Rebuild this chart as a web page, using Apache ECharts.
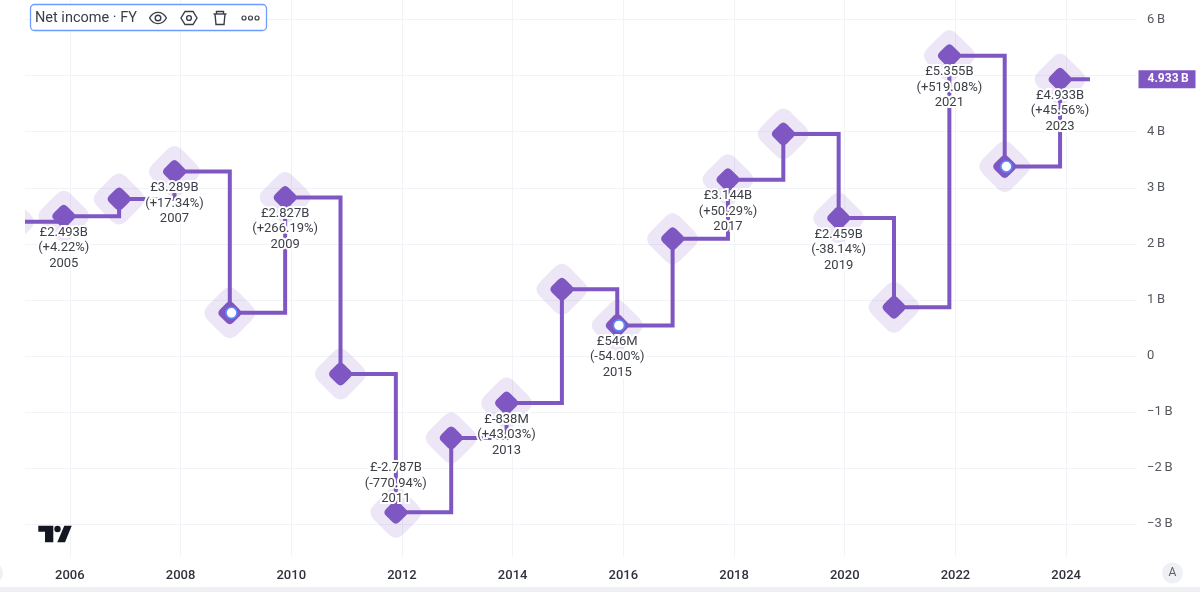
<!DOCTYPE html>
<html>
<head>
<meta charset="utf-8">
<style>html,body{margin:0;padding:0;background:#fff}#c{width:1200px;height:592px}</style>
<script src="https://cdn.jsdelivr.net/npm/echarts@6/dist/echarts.min.js"></script>
</head>
<body>
<div id="c"></div>
<script>
const fiscalYears = [2004,2005,2006,2007,2008,2009,2010,2011,2012,2013,2014,2015,2016,2017,2018,2019,2020,2021,2022,2023];
const netIncomeB = [2.392,2.493,2.80,3.289,0.77,2.827,-0.32,-2.787,-1.46,-0.838,1.19,0.546,2.09,3.144,3.96,2.459,0.87,5.355,3.38,4.933];
const valueLabels = {2005:'£2.493B',2007:'£3.289B',2009:'£2.827B',2011:'£-2.787B',2013:'£-838M',2015:'£546M',2017:'£3.144B',2019:'£2.459B',2021:'£5.355B',2023:'£4.933B'};
const changeLabels = {2005:'(+4.22%)',2007:'(+17.34%)',2009:'(+266.19%)',2011:'(-770.94%)',2013:'(+43.03%)',2015:'(-54.00%)',2017:'(+50.29%)',2019:'(-38.14%)',2021:'(+519.08%)',2023:'(+45.56%)'};
const labelsAbove = [2011];
const hollowYears = [2008,2015,2022];
const xTicks = [2006,2008,2010,2012,2014,2016,2018,2020,2022,2024];
const yTicks = [-3,-2,-1,0,1,2,3,4,5,6];
const yLabelled = [-3,-2,-1,0,1,2,3,4,6];
const lastValueLabel = '4.933\u2009B';
const fiscalEndOffset = 0.89;
const lastLineX = 2024.43;
const xMin = 2005.19, xMax = 2025.28, yMin = -3.584, yMax = 6.348;

const PURPLE = '#7e57c2';
const INK = '#3a3e4a';
const diamond = 'path://M36 10Q50 -4 64 10L90 36Q104 50 90 64L64 90Q50 104 36 90L10 64Q-4 50 10 36Z';
const xOf = y => y + fiscalEndOffset;
const pts = fiscalYears.map((y,i)=>[xOf(y), netIncomeB[i]]);
const lineData = fiscalYears.map((y,i)=>{
  const has = valueLabels[y];
  const above = labelsAbove.includes(y);
  return {
    value: pts[i],
    label: has ? {show:true, position: above ? 'top' : 'bottom', distance: above ? -6 : -3,
                  formatter: valueLabels[y]+'\n'+changeLabels[y]+'\n'+y} : {show:false}
  };
});
lineData.push({value:[lastLineX, netIncomeB[netIncomeB.length-1]], symbol:'none', label:{show:false}});

const stroke = {fill:'none', stroke:INK, lineWidth:1.4};
const mk = (type, shape, style) => ({type, shape, style:style||stroke, z:110, silent:true});

const chart = echarts.init(document.getElementById('c'), null, {renderer:'canvas'});
chart.setOption({
  animation:false,
  backgroundColor:'#fff',
  textStyle:{fontFamily:'Roboto, sans-serif'},
  grid:{left:25, right:63, top:0, bottom:35, containLabel:false},
  xAxis:{
    type:'value', min:xMin, max:xMax,
    axisLine:{show:false},
    axisTick:{show:false, customValues:xTicks},
    axisLabel:{customValues:xTicks, formatter:v=>String(v), color:'#2f323b', fontSize:13, fontWeight:500, margin:12, hideOverlap:false},
    splitLine:{show:true, lineStyle:{color:'#f2f3f6', width:1}}
  },
  yAxis:{
    type:'value', position:'right', min:yMin, max:yMax,
    axisLine:{show:false},
    axisTick:{show:false, customValues:yTicks},
    axisLabel:{customValues:yLabelled, color:'#55585f', fontSize:13, margin:10, align:'left', padding:[2,0,0,0],
      formatter:v=> v===0 ? '0' : (v<0 ? '−'+(-v) : v)+'\u2009B'},
    splitLine:{show:true, lineStyle:{color:'#f2f3f6', width:1}}
  },
  series:[
    {type:'scatter', data:pts, symbol:diamond, symbolSize:51, clip:false, silent:true, z:2,
      itemStyle:{color:PURPLE, opacity:0.15}},
    {type:'line', step:'end', data:lineData, symbol:diamond, symbolSize:23, showSymbol:true, showAllSymbol:true, silent:true, z:3,
      lineStyle:{color:PURPLE, width:4, join:'miter'},
      itemStyle:{color:PURPLE},
      labelLayout:{hideOverlap:false},
      label:{color:'#3d4048', fontSize:13, lineHeight:15.5, align:'center', textBorderColor:'#fff', textBorderWidth:4}},
    {type:'scatter', data:hollowYears.map(y=>[xOf(y)+0.03, netIncomeB[fiscalYears.indexOf(y)]]), symbol:'circle', symbolSize:11, silent:true, z:4,
      itemStyle:{color:'#fff', borderColor:'#5b8cff', borderWidth:1.6, opacity:1}},
    {type:'scatter', data:[[xMax, netIncomeB[netIncomeB.length-1]]], symbolSize:1, clip:false, silent:true, z:5,
      itemStyle:{color:'transparent', opacity:1},
      label:{show:true, position:'right', distance:1, formatter:lastValueLabel, backgroundColor:PURPLE, color:'#fff', fontSize:12, fontWeight:'bold', width:48, height:18, lineHeight:18, padding:[0,0,0,9], align:'left', verticalAlign:'middle'}}
  ],
  graphic:[
    {type:'rect', shape:{x:0,y:0,width:25,height:557}, style:{fill:'#fff'}, z:100, silent:true},
    {type:'rect', shape:{x:0,y:587,width:1200,height:5}, style:{fill:'#eef0f4'}, z:100, silent:true},
    {type:'circle', shape:{cx:-8,cy:573,r:11}, style:{fill:'#eef0f5'}, z:100, silent:true},
    {type:'circle', shape:{cx:1172.5,cy:573,r:10.5}, style:{fill:'#eff0f5'}, z:100, silent:true},
    {type:'text', x:1172.5, y:573, style:{text:'A', fill:'#5c5f68', font:'12px Roboto', align:'center', verticalAlign:'middle'}, z:101, silent:true},
    {type:'rect', shape:{x:30.5,y:4.5,width:236,height:26,r:4}, style:{fill:'#fff', stroke:'#6d9bff', lineWidth:1.3}, z:100, silent:true},
    {type:'text', x:35, y:18.5, style:{text:'Net income · FY', fill:INK, font:'14.5px Roboto', align:'left', verticalAlign:'middle'}, z:110, silent:true},
    mk('bezierCurve',{x1:149.5,y1:18,x2:166.5,y2:18,cpx1:154,cpy1:10.5,cpx2:162,cpy2:10.5}),
    mk('bezierCurve',{x1:149.5,y1:18,x2:166.5,y2:18,cpx1:154,cpy1:25.5,cpx2:162,cpy2:25.5}),
    mk('circle',{cx:158,cy:18,r:2.8}),
    mk('polygon',{points:[[185,11.5],[193,11.5],[197,18],[193,24.5],[185,24.5],[181,18]]}),
    mk('circle',{cx:189,cy:18,r:2.4}),
    mk('polyline',{points:[[213.5,14],[226.5,14]]}),
    mk('polyline',{points:[[216.5,14],[216.5,11.5],[223.5,11.5],[223.5,14]]}),
    mk('polyline',{points:[[215,14],[216,24.5],[224,24.5],[225,14]]}),
    mk('circle',{cx:244,cy:18,r:2},{fill:'none',stroke:INK,lineWidth:1.2}),
    mk('circle',{cx:250.5,cy:18,r:2},{fill:'none',stroke:INK,lineWidth:1.2}),
    mk('circle',{cx:257,cy:18,r:2},{fill:'none',stroke:INK,lineWidth:1.2}),
    {type:'polygon', shape:{points:[[38.3,525.7],[53.3,525.7],[53.3,542.3],[45,542.3],[45,531.7],[38.3,531.7]]}, style:{fill:'#131722'}, z:100, silent:true},
    {type:'circle', shape:{cx:57.5,cy:529,r:3.2}, style:{fill:'#131722'}, z:100, silent:true},
    {type:'polygon', shape:{points:[[64.3,525.7],[71.7,525.7],[65,542.3],[57.3,542.3]]}, style:{fill:'#131722'}, z:100, silent:true}
  ]
});
</script>
</body>
</html>
